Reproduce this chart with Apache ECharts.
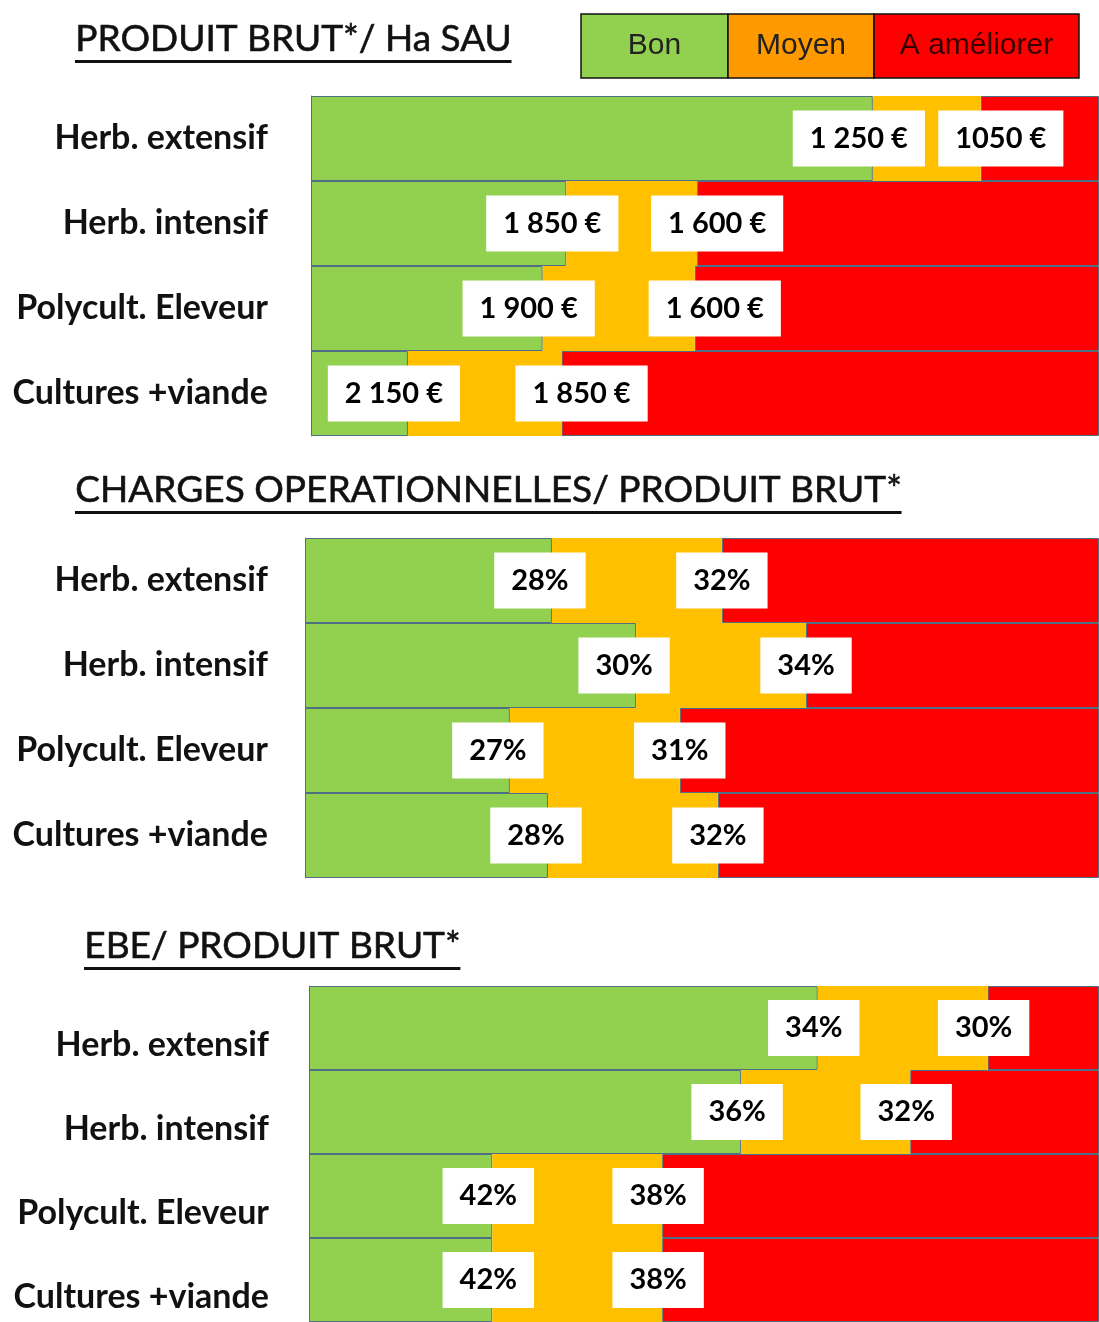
<!DOCTYPE html>
<html>
<head>
<meta charset="utf-8">
<script src="https://cdn.jsdelivr.net/npm/echarts@6/dist/echarts.min.js"></script>
<style>
  html, body { margin: 0; padding: 0; background: #fff; }
  #chart { width: 1099px; height: 1322px; }
</style>
</head>
<body>
<div id="chart"></div>
<script>
// catégories (lignes)
const categories = ["Herb. extensif", "Herb. intensif", "Polycult. Eleveur", "Cultures +viande"];
const levels = ["Bon", "Moyen", "A améliorer"];

// PRODUIT BRUT / Ha SAU : largeur des zones (en % de la barre)
const pbBon = [71.3, 32.4, 29.4, 12.3];
const pbMoyen = [13.7, 16.6, 19.3, 19.5];
const pbAmeliorer = [15.0, 51.0, 51.3, 68.2];
const pbSeuilBon = ["1 250 €", "1 850 €", "1 900 €", "2 150 €"];
const pbSeuilMoyen = ["1050 €", "1 600 €", "1 600 €", "1 850 €"];

// CHARGES OPERATIONNELLES / PRODUIT BRUT
const copBon = [31.1, 41.7, 25.8, 30.6];
const copMoyen = [21.4, 21.4, 21.4, 21.4];
const copAmeliorer = [47.5, 36.9, 52.8, 48.0];
const copSeuilBon = ["28%", "30%", "27%", "28%"];
const copSeuilMoyen = ["32%", "34%", "31%", "32%"];

// EBE / PRODUIT BRUT
const ebeBon = [64.4, 54.7, 23.2, 23.2];
const ebeMoyen = [21.5, 21.4, 21.5, 21.5];
const ebeAmeliorer = [14.1, 23.9, 55.3, 55.3];
const ebeSeuilBon = ["34%", "36%", "42%", "42%"];
const ebeSeuilMoyen = ["30%", "32%", "38%", "38%"];

const GREEN = "#92D050";
const ORANGE = "#FFC000";
const RED = "#FF0000";
const BORDER = "#4F6F85";

const chart = echarts.init(document.getElementById("chart"));

function seuilLabel(texts, dx) {
  return {
    show: true,
    position: ["100%", "50%"],
    align: "center",
    verticalAlign: "middle",
    offset: [dx, 0],
    formatter: (p) => texts[p.dataIndex],
    backgroundColor: "#fff",
    padding: [14, 17, 13, 17],
    color: "#000",
    fontFamily: "Lato",
    fontWeight: "bold",
    fontSize: 29,
  };
}

function sectionSeries(idx, bon, moyen, ameliorer, seuilBon, seuilMoyen, dx1, dx2) {
  const base = {
    type: "bar",
    stack: "s" + idx,
    xAxisIndex: idx,
    yAxisIndex: idx,
    barWidth: "100%",
    silent: true,
    animation: false,
  };
  return [
    { ...base, name: levels[0], data: bon,
      itemStyle: { color: GREEN, borderColor: BORDER, borderWidth: 1 },
      label: seuilLabel(seuilBon, dx1), z: 3 },
    { ...base, name: levels[1], data: moyen,
      itemStyle: { color: ORANGE, borderColor: ORANGE, borderWidth: 0 },
      label: seuilLabel(seuilMoyen, dx2), z: 3 },
    { ...base, name: levels[2], data: ameliorer,
      itemStyle: { color: RED, borderColor: BORDER, borderWidth: 1 }, z: 2 },
  ];
}

function yAxis(idx, margin, vAlign) {
  return {
    type: "category",
    gridIndex: idx,
    data: categories,
    inverse: true,
    axisLine: { show: true, lineStyle: { color: "#6a8a70", width: 1 } },
    axisTick: { show: false },
    axisLabel: {
      margin: margin,
      color: "#111",
      fontFamily: "Lato",
      fontWeight: "bold",
      fontSize: 34,
      verticalAlign: vAlign,
    },
  };
}

function xAxis(idx) {
  return { type: "value", gridIndex: idx, min: 0, max: 100, show: false };
}

// mesure du texte pour le soulignement des titres
const ctx = document.createElement("canvas").getContext("2d");
const TITLE_FONT = "37px Lato";
function titleGraphic(text, x, y) {
  ctx.font = TITLE_FONT;
  const w = ctx.measureText(text).width;
  return [
    { type: "text", left: x, top: y,
      style: { text: text, font: TITLE_FONT, fill: "#111", stroke: "#111", lineWidth: 0.6 } },
    { type: "rect", shape: { x: x, y: y + 40, width: w, height: 3 },
      style: { fill: "#111" } },
  ];
}

function legendGraphic() {
  const cells = [
    { x: 581, w: 147, color: GREEN },
    { x: 728, w: 146, color: "#FF9900" },
    { x: 874, w: 205, color: RED },
  ];
  const out = [];
  cells.forEach((c, i) => {
    out.push({ type: "rect", shape: { x: c.x, y: 14, width: c.w, height: 64 },
      style: { fill: c.color, stroke: "#111", lineWidth: 1.5 } });
    out.push({ type: "text", x: c.x + c.w / 2, y: 46,
      style: { text: levels[i], font: "30px 'Liberation Sans Narrow', 'Liberation Sans', sans-serif",
        fill: i === 2 ? "#3a0000" : "#222", align: "center", verticalAlign: "middle" } });
  });
  return out;
}

const option = {
  backgroundColor: "#fff",
  animation: false,
  grid: [
    { left: 311, top: 96, height: 340, right: -2 },
    { left: 305, top: 538, height: 340, right: -2 },
    { left: 309, top: 986, height: 340, right: -2 },
  ],
  xAxis: [xAxis(0), xAxis(1), xAxis(2)],
  yAxis: [yAxis(0, 43, "middle"), yAxis(1, 37, "middle"), yAxis(2, 40, "top")],
  series: [
    ...sectionSeries(0, pbBon, pbMoyen, pbAmeliorer, pbSeuilBon, pbSeuilMoyen, -14, 20),
    ...sectionSeries(1, copBon, copMoyen, copAmeliorer, copSeuilBon, copSeuilMoyen, -12, 0),
    ...sectionSeries(2, ebeBon, ebeMoyen, ebeAmeliorer, ebeSeuilBon, ebeSeuilMoyen, -4, -4),
  ],
  graphic: [
    ...titleGraphic("PRODUIT BRUT*/ Ha SAU", 75, 20),
    ...titleGraphic("CHARGES OPERATIONNELLES/ PRODUIT BRUT*", 75, 471),
    ...titleGraphic("EBE/ PRODUIT BRUT*", 84, 927),
    ...legendGraphic(),
  ],
};

chart.setOption(option);
</script>
</body>
</html>
